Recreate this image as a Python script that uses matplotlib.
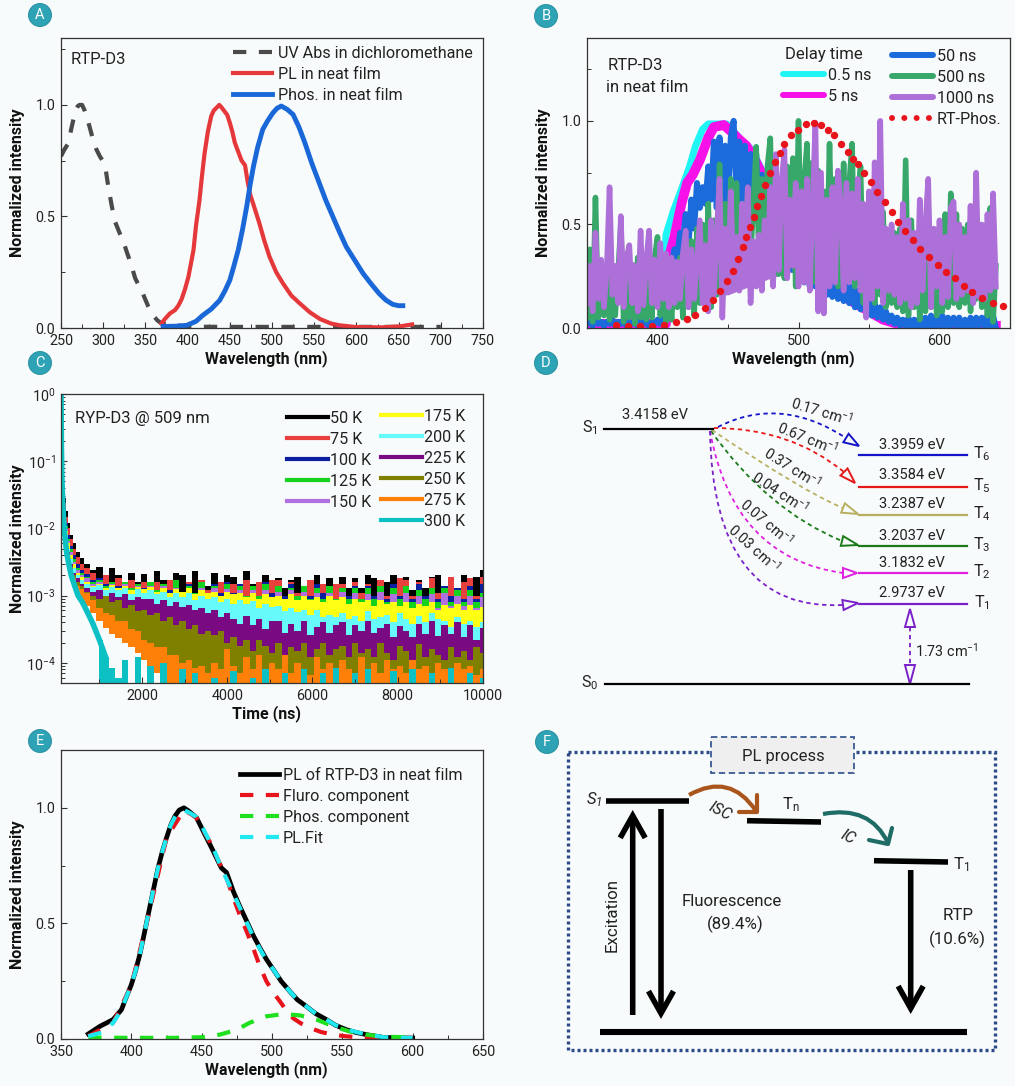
# plot.py - six panel RTP-D3 photophysics figure
import numpy as np
import matplotlib
matplotlib.use('Agg')
import matplotlib.pyplot as plt
from matplotlib.lines import Line2D
from matplotlib.patches import Circle, FancyArrowPatch, PathPatch, Polygon, Rectangle
from matplotlib.path import Path
from matplotlib.ticker import MultipleLocator, LogLocator, NullFormatter

# ─────────────────────────── panel A data ─────────────────────────────
uv_wave = [250, 254, 259, 262, 265, 268, 270, 272, 275, 278, 281, 284, 288, 292, 296, 300, 303, 306, 310, 314,
           319, 324, 328, 332, 335, 338, 343, 347, 353, 359, 364, 369,
           400, 450, 500, 550, 600, 650, 700]
uv_abs  = [.77, .80, .83, .89, .94, .98, .995, 1.0, 1.0, .975, .94, .90, .844, .80, .77, .745, .71, .634, .55, .477,
           .43, .387, .34, .297, .26, .222, .185, .154, .10, .057, .035, .02,
           .006, .005, .005, .005, .005, .005, .005]
pl_wave = [369, 373, 379, 385, 389, 393, 397, 401, 404, 407, 410, 414, 417, 420, 424, 428, 431, 435, 437.5, 440,
           444, 447, 450, 453, 456, 460, 464, 468, 471, 474, 480, 485, 491, 497, 505, 513, 523, 533, 545, 557,
           570, 580, 600, 631, 651, 666]
pl_film = [.02, .04, .065, .08, .10, .13, .175, .23, .29, .35, .46, .57, .68, .78, .88, .95, .975, .99, 1.0, .99,
           .97, .955, .92, .88, .83, .79, .75, .73, .66, .60, .53, .47, .39, .32, .25, .20, .145, .11, .07, .04,
           .02, .012, .004, .003, .007, .016]
ph_wave = [371, 385, 399, 410, 418, 428, 438, 444, 450, 455, 460, 465, 470, 474, 478, 483, 489, 495, 501, 506,
           511, 518, 525, 532, 539, 547, 556, 564, 572, 580, 588, 597, 608, 617, 627, 635, 643, 650, 655]
ph_film = [.007, .008, .012, .03, .057, .085, .124, .165, .214, .28, .35, .44, .544, .64, .724, .81, .89, .93,
           .964, .985, .995, .98, .957, .90, .83, .74, .65, .57, .50, .43, .364, .31, .244, .20, .154, .125,
           .106, .10, .10]

# ─────────────────────────── panel B data ─────────────────────────────
delay_wave = np.arange(350, 642, 2)
delay_50 = [.02,.03,.01,.04,.02,.03,.01,.03,.02,.04,
            .01,.03,.02,.04,.01,.03,.02,.03,.01,.04,
            .02,.03,.01,.03,.02,.04,.02,.03,.12,.24,
            .30,.38,.34,.46,.42,.55,.40,.62,.48,.70,
            .58,.68,.60,.78,.62,.90,.58,.92,.60,.88,
            .62,.92,1.0,.66,.90,.60,.88,.56,.84,.60,
            .84,.50,.74,.44,.68,.40,.60,.36,.56,.34,
            .52,.30,.48,.28,.44,.24,.42,.22,.40,.20,
            .38,.20,.36,.18,.34,.16,.32,.15,.30,.14,
            .26,.13,.24,.12,.20,.10,.18,.09,.16,.08,
            .14,.06,.12,.05,.10,.04,.08,.03,.06,.02,
            .05,.01,.04,.01,.05,.00,.04,.01,.05,.00,
            .05,.01,.06,.00,.05,.01,.06,.00,.05,.01,
            .05,.01,.05,.00,.04,.01,.05,.00,.05,.01,
            .05,.01,.06,.00,.06,.00]
delay_500 = [.05,.38,.03,.63,.05,.30,.06,.28,.04,.30,
             .06,.26,.50,.03,.28,.05,.30,.02,.34,.05,
             .28,.04,.30,.05,.34,.44,.06,.30,.03,.28,
             .04,.30,.10,.34,.05,.36,.10,.42,.06,.48,
             .12,.50,.14,.60,.10,.52,.16,.79,.20,.60,
             .24,.72,.22,.70,.26,.60,.30,.66,.34,.60,
             .875,.30,.72,.28,.78,.916,.30,.76,.26,.70,
             .24,.78,.30,.82,.20,1.0,.28,.70,.89,.24,
             .80,.22,.76,.30,.66,.24,.89,.26,.72,.20,
             .22,.795,.24,.70,.89,.20,.62,.78,.12,.58,
             .15,.63,.12,.50,.16,.56,.10,.45,.12,.46,
             .10,.48,.08,.81,.06,.52,.10,.44,.04,.52,
             .08,.58,.10,.42,.06,.46,.08,.55,.10,.65,
             .12,.55,.10,.48,.12,.50,.08,.44,.14,.50,
             .10,.45,.06,.58,.03,.30]
delay_1000 = [.12,.30,.08,.46,.14,.33,.10,.28,.68,.16,
              .30,.12,.54,.10,.34,.40,.12,.30,.08,.47,
              .11,.32,.47,.12,.33,.10,.41,.14,.36,.10,
              .34,.12,.32,.14,.36,.47,.10,.38,.14,.33,
              .52,.12,.40,.08,.52,.16,.45,.72,.05,.48,
              .20,.66,.22,.44,.18,.60,.25,.68,.12,.42,
              .20,.45,.18,.52,.26,.68,.20,.84,.28,.70,
              .86,.24,.62,.30,.70,.20,.66,.22,.72,.18,
              .60,.99,.08,.75,.07,.62,.20,.68,.22,.76,
              .60,.18,.70,.22,.65,.24,.72,.18,.60,.05,
              .66,.14,.80,.20,1.0,.12,.48,.18,.50,.16,
              .44,.12,.60,.14,.52,.10,.46,.12,.62,.18,
              .50,.72,.10,.48,.20,.52,.12,.44,.15,.58,
              .61,.14,.50,.16,.44,.18,.59,.12,.75,.15,
              .50,.14,.55,.18,.65,.20]
# solid body of the 1000 ns trace
core_wave = [350, 400, 450, 480, 500, 530, 560, 600, 640]
core_high = [.30, .33, .36, .45, .54, .56, .45, .36, .34]
core_low  = [.16, .16, .16, .24, .28, .28, .22, .20, .22]
cyan_wave = [350, 404, 406, 411, 417, 423, 427, 432, 436, 442, 449, 454, 459, 467, 475, 485, 495, 505,
             515, 525, 540, 555, 570, 590, 610, 640]
delay_05  = [.02, .02, .45, .56, .67, .785, .88, .96, .985, .985, .985, .95, .91, .86, .75, .62, .5, .4,
             .3, .22, .14, .08, .04, .01, .01, .01]
mag_wave = [350, 406, 408, 412, 417, 421, 425, 430, 436, 440, 447, 452, 458, 463, 470, 480, 490, 500,
            510, 520, 530, 540, 550, 560, 570, 590, 640]
delay_5  = [.02, .02, .34, .44, .60, .70, .74, .81, .92, .97, .98, .95, .91, .88, .8, .66, .54, .44,
            .34, .24, .16, .12, .08, .04, .02, .01, .01]
rt_wave = [370.4, 378.9, 387.7, 396.2, 404.7, 413, 420.8, 426.7, 433.4, 439.3, 444.5, 449.5, 453.5, 456.8,
           460.3, 462.5, 465.8, 468.2, 470.5, 473.4, 476.4, 480, 483.6, 487.1, 489.9, 494.9, 499.4, 505.3,
           510.8, 516, 520.7, 525, 530.2, 534.9, 538.7, 542.3, 546.8, 551.3, 556, 561.2, 566.4, 570.5,
           575.7, 580.9, 586.3, 592.2, 598.6, 604.3, 611, 617.3, 623.3, 630.4, 638.2, 645.3]
rt_phos = [.016, .011, .011, .011, .016, .03, .045, .064, .095, .135, .177, .228, .276, .332,
           .39, .437, .49, .536, .587, .638, .69, .746, .803, .846, .886, .93, .955, .984,
           .99, .98, .955, .93, .886, .85, .816, .792, .748, .705, .657, .607, .559, .514,
           .47, .427, .379, .343, .306, .271, .239, .205, .172, .144, .122, .104]

# ─────────────────────────── panel C data ─────────────────────────────
# upper edge of each noisy trace, intensities in units of 1e-3
decay_time = np.concatenate(([100, 110, 120, 140, 160, 190, 230, 280, 340, 420, 500, 600],
                             np.arange(700, 10001, 150)))
decay_50K = [1000,300,150,70,45,28,18,12,8,6,4.5,3.6,
             3.0,2.4,2.7,1.9,2.6,2.0,1.6,2.2,1.6,2.1,
             1.5,2.3,1.7,1.4,2.2,2.0,1.4,2.3,1.5,1.4,
             2.2,1.5,2.0,1.9,1.3,2.3,1.5,1.4,2.0,1.3,
             1.8,1.3,1.7,1.9,1.2,1.5,2.0,1.3,1.8,1.2,
             1.9,1.3,1.8,1.3,2.0,1.8,1.2,1.6,2.0,1.3,
             1.9,1.2,1.7,1.3,1.9,2.0,1.3,1.9,1.2,2.0,
             1.3,1.9,2.4]
decay_75K = [1000,280,130,60,38,24,15,10,7,5,3.8,3.0,
             2.6,2.2,1.7,2.0,1.5,1.8,1.3,1.7,1.2,1.6,
             1.3,1.6,1.1,1.7,1.5,1.1,1.6,1.1,1.7,1.2,
             1.5,1.6,1.0,1.5,1.2,1.7,1.0,1.6,1.1,1.7,
             1.7,1.0,1.6,1.1,1.4,1.7,1.0,1.5,1.1,1.5,
             1.5,1.0,1.6,1.1,1.5,1.0,1.7,1.0,1.4,1.8,
             1.7,1.0,1.6,1.0,1.8,1.1,1.4,1.9,1.0,1.6,
             1.8,1.0,1.9]
decay_100K = [1000,260,120,55,33,20,12,8,5.5,4,3,2.4,
              2.1,1.7,1.8,1.5,1.6,1.4,1.6,1.3,1.5,1.3,
              1.6,1.2,1.5,1.2,1.6,1.1,1.5,1.1,1.6,1.1,
              1.5,1.1,1.6,1.1,1.5,1.0,1.4,1.0,1.6,1.1,
              1.4,1.0,1.5,1.0,1.4,1.0,1.5,1.1,1.4,0.9,
              1.3,1.0,1.4,0.9,1.4,1.0,1.3,0.9,1.5,1.0,
              1.4,0.9,1.5,1.0,1.3,0.9,1.4,1.0,1.3,0.9,
              1.4,0.9,1.5]
decay_125K = [1000,250,110,50,30,18,11,7,5,3.5,2.6,2.2,
              1.9,1.6,1.7,1.4,1.6,1.3,1.6,1.3,1.5,1.2,
              1.6,1.2,1.5,1.1,1.7,1.1,1.4,1.1,1.6,1.0,
              1.4,1.0,1.5,1.0,1.4,1.0,1.4,1.0,1.5,0.9,
              1.4,0.9,1.3,1.0,1.4,0.9,1.3,0.9,1.4,0.9,
              1.3,0.9,1.3,0.9,1.3,0.9,1.4,0.8,1.3,0.9,
              1.4,0.8,1.2,0.9,1.3,0.8,1.3,0.8,1.2,0.8,
              1.2,0.8,1.1]
decay_150K = [1000,240,100,45,27,16,10,6.5,4.5,3.2,2.4,2.0,
              1.8,1.5,1.6,1.3,1.5,1.3,1.5,1.2,1.4,1.1,
              1.4,1.1,1.4,1.0,1.3,1.0,1.3,1.0,1.3,1.0,
              1.3,0.9,1.25,0.9,1.2,0.85,1.2,0.9,1.2,0.8,
              1.15,0.75,1.2,0.8,1.15,0.8,1.1,0.75,1.1,0.8,
              1.15,0.7,1.1,0.75,1.05,0.7,1.15,0.7,1.05,0.7,
              1.1,0.65,1.0,0.7,1.05,0.65,1.1,0.7,1.0,0.7,
              1.0,0.65,0.95]
decay_175K = [1000,230,95,42,25,15,9,6,4,3,2.2,1.9,
              1.6,1.4,1.5,1.3,1.45,1.3,1.4,1.2,1.35,1.25,
              1.35,1.15,1.3,1.1,1.25,1.15,1.3,1.05,1.2,1.1,
              1.15,1.0,1.15,1.05,1.1,0.95,1.1,0.9,1.05,0.95,
              1.0,0.9,1.05,0.85,1.0,0.85,0.95,0.8,1.0,0.85,
              0.95,0.75,0.9,0.8,0.85,0.7,0.85,0.75,0.8,0.7,
              0.8,0.65,0.75,0.7,0.8,0.62,0.72,0.66,0.75,0.6,
              0.72,0.6,0.68]
decay_200K = [1000,220,90,40,23,14,8,5,3.5,2.6,2,1.7,
              1.5,1.35,1.45,1.2,1.35,1.2,1.3,1.05,1.25,1.1,
              1.2,1.05,1.15,0.95,1.1,0.95,1.1,0.85,1.0,0.9,
              0.95,0.8,0.9,0.75,0.85,0.75,0.82,0.65,0.75,0.68,
              0.7,0.58,0.66,0.56,0.6,0.52,0.62,0.48,0.52,0.48,
              0.55,0.45,0.5,0.42,0.58,0.45,0.48,0.52,0.4,0.55,
              0.45,0.38,0.5,0.4,0.55,0.45,0.42,0.34,0.48,0.38,
              0.42,0.34,0.4]
decay_225K = [1000,200,80,35,20,12,7,4.5,3,2.2,1.8,1.5,
              1.3,1.15,1.2,1.0,1.1,0.95,1.05,0.85,0.95,0.88,
              0.9,0.75,0.85,0.7,0.8,0.68,0.72,0.6,0.65,0.55,
              0.6,0.48,0.55,0.45,0.38,0.5,0.36,0.45,0.32,0.42,
              0.42,0.28,0.38,0.3,0.42,0.26,0.34,0.4,0.28,0.36,
              0.4,0.26,0.36,0.3,0.42,0.28,0.33,0.38,0.24,0.35,
              0.3,0.24,0.38,0.27,0.42,0.25,0.36,0.27,0.4,0.24,
              0.36,0.22,0.33]
decay_250K = [1000,190,75,32,18,11,6,4,2.7,2,1.6,1.4,
              1.15,1.0,0.9,1.0,0.8,0.85,0.65,0.72,0.58,0.62,
              0.52,0.55,0.42,0.48,0.36,0.42,0.32,0.36,0.27,0.3,
              0.26,0.3,0.2,0.24,0.18,0.22,0.15,0.22,0.18,0.14,
              0.2,0.13,0.17,0.15,0.2,0.12,0.16,0.2,0.13,0.16,
              0.18,0.12,0.2,0.14,0.16,0.12,0.2,0.14,0.11,0.18,
              0.15,0.11,0.19,0.12,0.16,0.13,0.11,0.17,0.12,0.15,
              0.11,0.17,0.14]
decay_275K = [1000,180,70,30,16,10,5.5,3.5,2.4,1.8,1.4,1.25,
              1.1,0.85,0.65,0.55,0.52,0.42,0.42,0.32,0.3,0.22,
              0.2,0.17,0.17,0.13,0.13,0.1,0.11,0.085,0.09,0.07,
              0.1,0.08,0.16,0.09,0.07,0.12,0.08,0.13,0.07,0.1,
              0.08,0.13,0.07,0.1,0.08,0.065,0.12,0.08,0.1,0.07,
              0.11,0.08,0.065,0.12,0.08,0.1,0.07,0.11,0.08,0.09,
              0.07,0.11,0.08,0.09,0.065,0.1,0.08,0.06,0.1,0.08,
              0.09,0.065,0.08]
decay_300K = [1000,160,60,25,14,8,4.5,3,2,1.4,1,0.8,
              0.6,0.38,0.22,0.12,0.085,0.06,0.11,0.05,0.12,0.05,
              0.09,0.04,0.1,0.05,0.04,0.08,0.03,0.07,0.03,0.03,
              0.06,0.03,0.03,0.075,0.03,0.03,0.06,0.03,0.08,0.03,
              0.03,0.07,0.03,0.03,0.08,0.03,0.03,0.07,0.03,0.085,
              0.03,0.03,0.07,0.03,0.08,0.03,0.03,0.03,0.075,0.03,
              0.03,0.08,0.03,0.03,0.07,0.03,0.03,0.085,0.03,0.03,
              0.07,0.03,0.06]
# lower edge shared by the traces above 300 K
decay_floor = [1000,160,60,25,14,8,4.5,3,2,1.4,1,0.8,
               0.7,0.55,0.42,0.33,0.27,0.23,0.2,0.17,0.14,0.11,
               0.09,0.07,0.06,0.05,0.04,0.03,0.03,0.03,0.03,0.03,
               0.03,0.03,0.03,0.03,0.03,0.03,0.03,0.03,0.03,0.03,
               0.03,0.03,0.03,0.03,0.03,0.03,0.03,0.03,0.03,0.03,
               0.03,0.03,0.03,0.03,0.03,0.03,0.03,0.03,0.03,0.03,
               0.03,0.03,0.03,0.03,0.03,0.03,0.03,0.03,0.03,0.03,
               0.03,0.03,0.03]
decay_all = [decay_50K, decay_75K, decay_100K, decay_125K, decay_150K, decay_175K,
             decay_200K, decay_225K, decay_250K, decay_275K, decay_300K]
decay_labels = ['50 K', '75 K', '100 K', '125 K', '150 K', '175 K', '200 K', '225 K', '250 K', '275 K', '300 K']
decay_colors = ['#000000', '#e8403c', '#0a1fa0', '#14d21e', '#b070e0', '#ffff14', '#66fafa',
                '#7a0a82', '#808000', '#ff8008', '#0cc0c4']

# ─────────────────────────── panel D data ─────────────────────────────
triplet_names  = ['T$_6$', 'T$_5$', 'T$_4$', 'T$_3$', 'T$_2$', 'T$_1$']
triplet_energy = ['3.3959 eV', '3.3584 eV', '3.2387 eV', '3.2037 eV', '3.1832 eV', '2.9737 eV']
soc_labels     = ['0.17 cm$^{-1}$', '0.67 cm$^{-1}$', '0.37 cm$^{-1}$',
                  '0.04 cm$^{-1}$', '0.07 cm$^{-1}$', '0.03 cm$^{-1}$']

# ─────────────────────────── panel E data ─────────────────────────────
e_pl_wave = [369.4, 377.7, 387, 393, 396, 400, 403, 406, 409, 412, 415.5, 419, 422, 425, 428, 431, 434, 437.4, 441,
             446.4, 451, 456, 460, 464, 467.7, 472.4, 477, 482, 486.5, 491.4, 496, 501, 506.5, 512.7, 518, 524.5,
             531, 538.7, 545, 553, 560, 567, 579, 600]
e_pl      = [.022, .055, .084, .127, .175, .235, .295, .365, .45, .538, .64, .74, .81, .87, .925, .964, .99, 1.0, .985,
             .957, .90, .84, .79, .74, .72, .64, .575, .51, .45, .394, .345, .30, .25, .206, .17, .141,
             .11, .084, .06, .04, .028, .019, .007, .004]
e_fit_wave = [369.4, 380, 387, 393, 396, 400, 403, 406, 409, 412, 415.5, 419, 422, 425, 428, 431, 434, 437.4, 441,
              446.4, 451, 456, 460, 464, 472.4, 477, 482, 486.5, 491.4, 496, 501, 506.5, 512.7, 518, 524.5,
              531, 538.7, 545, 553, 560, 567, 579, 600]
e_fit      = [.012, .03, .07, .125, .175, .235, .295, .365, .45, .538, .64, .74, .81, .87, .925, .96, .985, .99, .98,
              .96, .91, .85, .80, .74, .63, .57, .505, .445, .39, .34, .30, .25, .206, .17, .141,
              .11, .084, .06, .042, .03, .02, .008, .004]
e_fl_wave = [369.4, 387, 400, 412, 425, 437.4, 446, 456, 462, 467.7, 472, 477, 482, 486.6, 491, 496, 501, 505.6, 510,
             515, 521, 527, 535, 543.5, 552, 562, 579]
e_fl      = [.012, .07, .23, .53, .87, .99, .96, .85, .77, .697, .62, .538, .465, .394, .32, .25, .20, .163, .125,
             .09, .066, .048, .03, .019, .012, .007, .004]
e_ph_wave = [369.4, 400, 430, 451, 463, 475, 484, 496, 508, 520, 531.6, 543.5, 555, 567, 579, 600]
e_ph      = [.006, .005, .005, .008, .019, .04, .07, .098, .108, .102, .084, .055, .033, .019, .01, .007]

# ───────────────────────── styling and helpers ────────────────────────
plt.rcParams['font.family'] = ['Roboto', 'DejaVu Sans']
plt.rcParams['mathtext.default'] = 'regular'
plt.rcParams['font.size'] = 11.6

W, H = 1015, 1086
BG = '#f8fbfb'
TXT = '#222222'
fig = plt.figure(figsize=(W / 100, H / 100), dpi=100, facecolor=BG)


def panel(left, right, top, bottom):
    ax = fig.add_axes([left / W, 1 - bottom / H, (right - left) / W, (bottom - top) / H])
    ax.set_facecolor(BG)
    for s in ax.spines.values():
        s.set_linewidth(0.9)
        s.set_color('#333333')
        s.set_zorder(5)
    ax.tick_params(which='major', direction='in', length=4.5, width=0.8, labelsize=10.4, pad=4,
                   top=False, right=False, color='#333333', labelcolor=TXT)
    ax.tick_params(which='minor', direction='in', length=3, width=0.7, top=False, right=False, color='#333333')
    return ax


def labels(ax, xlabel, ylabel='Normalized intensity'):
    ax.set_xlabel(xlabel, fontweight='bold', fontsize=11.5, color='#111111', va='top')
    ax.set_ylabel(ylabel, fontweight='bold', fontsize=11.5, color='#111111', va='bottom')
    ax.xaxis.set_label_coords(0.487, -0.076)
    ax.yaxis.set_label_coords(-0.085, 0.5)


def px_legend(ax, handles, left, top, length, gap, spacing=0.37):
    # legend anchored by figure pixels of its top left corner
    box = ax.get_position()
    bx = (left / W - box.x0) / box.width
    by = ((1 - top / H) - box.y0) / box.height
    leg = ax.legend(handles=handles, loc='upper left', bbox_to_anchor=(bx, by), frameon=False,
                    borderpad=0, borderaxespad=0, handlelength=length, handletextpad=gap,
                    labelspacing=spacing, fontsize=11.6, labelcolor=TXT)
    ax.legend_ = None
    ax.add_artist(leg)


def note(txt, xp, yp):
    fig.text(xp / W, 1 - yp / H, txt, va='center', color=TXT, fontsize=12, zorder=6)


dash = (0, (3.2, 3))

# ─────────────────────────────── panel A ──────────────────────────────
ax = panel(61, 483, 38, 328)
ax.plot(uv_wave, uv_abs, color='#4a4a4a', lw=3, ls=dash, label='UV Abs in dichloromethane')
ax.plot(pl_wave, pl_film, color='#e5383b', lw=3, label='PL in neat film')
ax.plot(ph_wave, ph_film, color='#1a68d8', lw=3.5, label='Phos. in neat film')
ax.set_xlim(250, 750)
ax.set_ylim(0, 1.3)
ax.xaxis.set_major_locator(MultipleLocator(50))
ax.xaxis.set_minor_locator(MultipleLocator(25))
ax.yaxis.set_major_locator(MultipleLocator(0.5))
ax.yaxis.set_minor_locator(MultipleLocator(0.25))
labels(ax, 'Wavelength (nm)')
px_legend(ax, ax.get_legend_handles_labels()[0], 233, 46, 2.44, 0.38)
note('RTP-D3', 71, 60)

# ─────────────────────────────── panel B ──────────────────────────────
ax = panel(587, 1010, 38, 328)
ax.plot(cyan_wave, delay_05, color='#1ff5f5', lw=5)
ax.plot(mag_wave, delay_5, color='#f810e8', lw=7)
ax.plot(delay_wave, delay_50, color='#1c6bdc', lw=4.3)
ax.plot(delay_wave, delay_500, color='#38a76a', lw=4)
ax.plot(delay_wave, delay_1000, color='#ad6fd8', lw=4)
ax.fill_between(core_wave, core_low, core_high, color='#ad6fd8', lw=0)
ax.plot(rt_wave, rt_phos, color='#e8141c', ls='none', marker='o', ms=4.3)
ax.set_xlim(350, 650)
ax.set_ylim(0, 1.4)
ax.xaxis.set_major_locator(MultipleLocator(100))
ax.xaxis.set_minor_locator(MultipleLocator(50))
ax.yaxis.set_major_locator(MultipleLocator(0.5))
ax.yaxis.set_minor_locator(MultipleLocator(0.25))
labels(ax, 'Wavelength (nm)')
key = lambda c, t: Line2D([], [], color=c, lw=4.3, label=t, solid_capstyle='round')
px_legend(ax, [key('#1ff5f5', '0.5 ns'), key('#f810e8', '5 ns')], 783, 68, 2.55, 0.25)
rt_key = Line2D([], [], color='#e8141c', ls=(0, (0.01, 2.05)), lw=4.3, dash_capstyle='round', label='RT-Phos.')
px_legend(ax, [key('#1c6bdc', '50 ns'), key('#38a76a', '500 ns'), key('#ad6fd8', '1000 ns'), rt_key],
          892, 49, 2.55, 0.25)
note('RTP-D3', 608, 65)
note('in neat film', 606, 88)
note('Delay time', 785, 54)

# ─────────────────────────────── panel C ──────────────────────────────
ax = panel(61, 483, 394, 683)
keys = []
for vals, lab, col in zip(decay_all, decay_labels, decay_colors):
    vals = np.array(vals) * 1e-3
    if lab == '300 K':
        # thin decay first, then noise sitting on the axis
        ax.plot(decay_time[:16], vals[:16], color=col, lw=4)
        ax.fill_between(decay_time[14:], vals[14:], 1e-5, step='mid', color=col, lw=0)
    else:
        ax.fill_between(decay_time, vals, np.array(decay_floor) * 1e-3, step='mid', color=col, lw=0)
    keys.append(Line2D([], [], color=col, lw=3, label=lab))
ax.set_yscale('log')
ax.set_xlim(100, 10000)
ax.set_ylim(5e-5, 1)
ax.xaxis.set_major_locator(MultipleLocator(2000))
ax.xaxis.set_minor_locator(MultipleLocator(1000))
ax.yaxis.set_major_locator(LogLocator(base=10, numticks=8))
ax.yaxis.set_minor_locator(LogLocator(base=10, subs=np.arange(2, 10) * 0.1, numticks=8))
ax.yaxis.set_minor_formatter(NullFormatter())
labels(ax, 'Time (ns)')
px_legend(ax, keys[:5], 287, 411, 2.56, 0.1)
px_legend(ax, keys[5:], 381, 409, 2.56, 0.1)
note('RYP-D3 @ 509 nm', 75, 418)

# ─────────────────────────────── panel E ──────────────────────────────
ax = panel(61, 483, 750, 1039)
ax.plot(e_pl_wave, e_pl, color='#000000', lw=3.4, label='PL of RTP-D3 in neat film')
ax.plot(e_fl_wave, e_fl, color='#e8141c', lw=3, ls=dash, label='Fluro. component')
ax.plot(e_ph_wave, e_ph, color='#1fe01f', lw=3, ls=dash, label='Phos. component')
ax.plot(e_fit_wave, e_fit, color='#1fe8f0', lw=3, ls=dash, label='PL.Fit')
ax.set_xlim(350, 650)
ax.set_ylim(0, 1.25)
ax.xaxis.set_major_locator(MultipleLocator(50))
ax.xaxis.set_minor_locator(MultipleLocator(25))
ax.yaxis.set_major_locator(MultipleLocator(0.5))
ax.yaxis.set_minor_locator(MultipleLocator(0.25))
labels(ax, 'Wavelength (nm)')
px_legend(ax, ax.get_legend_handles_labels()[0], 240, 768, 2.4, 0.25)

# ──────────────────── overlay in pixels: panels D and F ───────────────
ov = fig.add_axes([0, 0, 1, 1], zorder=5)
ov.set_xlim(0, W)
ov.set_ylim(H, 0)
ov.axis('off')


def curve(start, ctrl, end, color, lw, ls='-'):
    p = Path([start, ctrl, end], [Path.MOVETO, Path.CURVE3, Path.CURVE3])
    ov.add_patch(PathPatch(p, fc='none', ec=color, lw=lw, ls=ls, capstyle='butt'))


def open_head(tip, base, color, half=5):
    tip, base = np.array(tip, float), np.array(base, float)
    d = (tip - base) / np.hypot(*(tip - base))
    n = np.array([-d[1], d[0]])
    ov.add_patch(Polygon([tip, base + n * half, base - n * half], closed=True, fc='none', ec=color, lw=1.4))


# panel D
level_y     = [454.7, 486.7, 515, 545.7, 573, 603.7]
level_cols  = ['#1414c8', '#e61919', '#b8b060', '#1a7a1a', '#e020e0', '#7a20c8']
energy_y    = [445, 475, 504, 536, 563, 593]
arc_start   = [(718, 427), (714, 428), (712, 430), (711, 431), (710, 431), (710, 431)]
arc_ctrl    = [(780, 395), (790, 428), (802, 491), (767, 510), (733, 558), (713, 612)]
arc_end     = [(846, 438), (844, 472), (843, 508), (842, 541), (843, 573), (843, 605)]
arc_tip     = [(859, 446), (855, 483), (858, 514), (858, 545), (857, 573), (858, 603)]
soc_xy      = [(822, 411), (807, 438), (792, 468), (780, 492), (767, 522), (754, 548)]
soc_rot     = [-17, -22, -32, -33, -40, -42]
small_dash  = (0, (2.4, 2))

ov.plot([604, 713], [428.7, 428.7], color='k', lw=1.6)
ov.plot([605, 969], [684, 684], color='k', lw=1.6)
ov.text(590, 428, 'S$_1$', ha='center', va='center', color=TXT)
ov.text(590, 683, 'S$_0$', ha='center', va='center', color=TXT)
ov.text(655, 415, '3.4158 eV', ha='center', va='center', fontsize=10.6, color=TXT)
for i in range(6):
    c = level_cols[i]
    ov.plot([859, 967], [level_y[i], level_y[i]], color=c, lw=1.6)
    ov.text(982, level_y[i] - 1, triplet_names[i], ha='center', va='center', color=TXT)
    ov.text(912, energy_y[i], triplet_energy[i], ha='center', va='center', fontsize=10.6, color=TXT)
    curve(arc_start[i], arc_ctrl[i], arc_end[i], c, 1.3, small_dash)
    open_head(arc_tip[i], arc_end[i], c)
    ov.text(*soc_xy[i], soc_labels[i], ha='center', va='center', rotation=soc_rot[i],
            rotation_mode='anchor', fontsize=10.4, color=TXT)
ov.plot([910, 910], [627, 665], color='#7a20c8', lw=1.3, ls=small_dash)
open_head((910, 609), (910, 627), '#7a20c8')
open_head((910, 684), (910, 665), '#7a20c8')
ov.text(947, 651, '1.73 cm$^{-1}$', ha='center', va='center', fontsize=10.4, color=TXT)

# panel F
ov.add_patch(Rectangle((568, 752), 427, 298, fc='none', ec='#2c4a8a', lw=2.4, ls=(0, (0.9, 0.9))))
ov.add_patch(Rectangle((711, 737), 143, 36, fc='#efefef', ec='#3a5a94', lw=1.3, ls=(0, (3.5, 2)), zorder=3))
ov.text(783.5, 757, 'PL process', ha='center', va='center', zorder=4, fontsize=12, color=TXT)

ov.plot([606, 689], [800.7, 800.7], color='k', lw=4, solid_capstyle='butt')
ov.plot([747, 821], [820.7, 822], color='k', lw=4, solid_capstyle='butt')
ov.plot([874, 948], [860.7, 862], color='k', lw=4, solid_capstyle='butt')
ov.plot([600, 967], [1031.7, 1031.7], color='k', lw=4.4, solid_capstyle='butt')


def straight(x, y0, y1):
    ov.add_patch(FancyArrowPatch((x, y0), (x, y1), arrowstyle='->,head_length=1.6,head_width=0.9',
                                 mutation_scale=10, lw=4, color='k', shrinkA=0, shrinkB=0,
                                 joinstyle='miter', capstyle='butt'))


straight(632.7, 1015, 810)
straight(661, 809, 1019)
straight(910.7, 870, 1014)

curve((689, 795), (730, 772), (756, 811), '#a9551c', 3)
ov.plot([757, 757, 739], [795, 811.5, 811.5], color='#a9551c', lw=3, solid_capstyle='round')
curve((823, 814), (870, 805), (888, 843), '#1f6b66', 3)
ov.plot([892, 888, 869], [828, 844, 840], color='#1f6b66', lw=3, solid_capstyle='round')

ov.text(594, 800, 'S$_1$', ha='center', va='center', style='italic', fontsize=12, color=TXT)
ov.text(791, 805, 'T$_n$', ha='center', va='center', fontsize=12, color=TXT)
ov.text(961, 865, 'T$_1$', ha='center', va='center', fontsize=12, color=TXT)
ov.text(720, 811, 'ISC', ha='center', va='center', style='italic', rotation=-27, fontsize=11.5, color=TXT)
ov.text(848, 837, 'IC', ha='center', va='center', style='italic', rotation=-27, fontsize=11.5, color=TXT)
ov.text(612, 915, 'Excitation', ha='center', va='center', rotation=90, fontsize=12.2, color=TXT)
ov.text(732, 901, 'Fluorescence', ha='center', va='center', fontsize=12.2, color=TXT)
ov.text(735, 924, '(89.4%)', ha='center', va='center', fontsize=12.2, color=TXT)
ov.text(958, 916, 'RTP', ha='center', va='center', fontsize=12.2, color=TXT)
ov.text(957, 939, '(10.6%)', ha='center', va='center', fontsize=12.2, color=TXT)

# panel letters
for letter, cx, cy in [('A', 40, 15), ('B', 546, 16), ('C', 40, 363), ('D', 546, 363), ('E', 40, 741), ('F', 547, 742)]:
    ov.add_patch(Circle((cx, cy), 11.5, fc='#2ea3b5', ec='#1f8a9a', lw=0.6))
    ov.text(cx, cy, letter, ha='center', va='center', color='white', fontsize=10.5)

fig.savefig('out.png', dpi=100, facecolor=BG)
